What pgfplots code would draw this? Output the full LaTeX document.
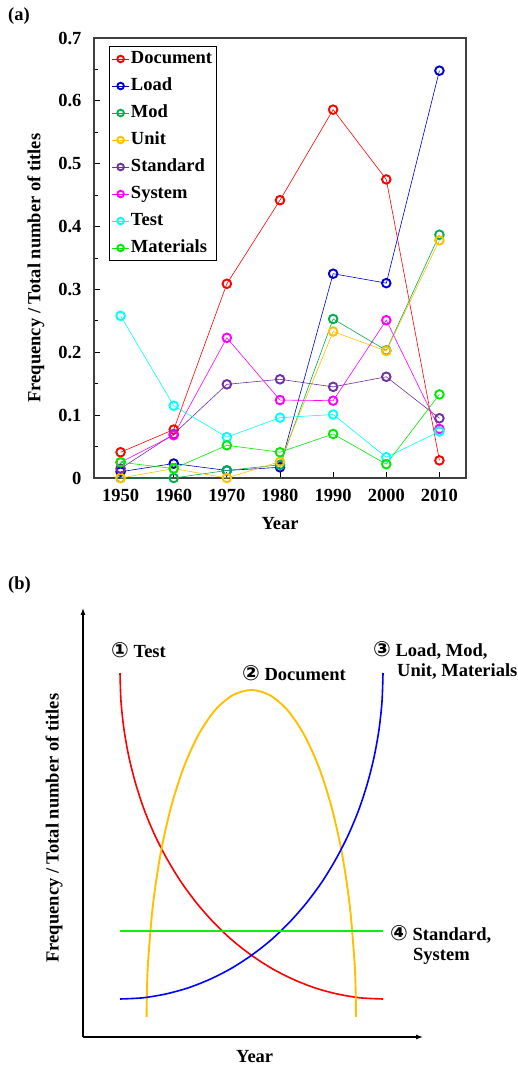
\documentclass[border=0pt]{standalone}
\usepackage{fontspec}
\setmainfont{Liberation Serif}
\newfontfamily\sym{DejaVu Sans}
\usepackage{pgfplots}
\pgfplotsset{compat=1.18}
\usetikzlibrary{arrows.meta}
\definecolor{cDoc}{RGB}{255,0,0}
\definecolor{cLoad}{RGB}{0,0,200}
\definecolor{cMod}{RGB}{0,176,80}
\definecolor{cUnit}{RGB}{255,192,0}
\definecolor{cStd}{RGB}{112,48,160}
\definecolor{cSys}{RGB}{255,0,255}
\definecolor{cTest}{RGB}{0,255,255}
\definecolor{cMat}{RGB}{0,235,0}
\definecolor{bRed}{RGB}{255,0,0}
\definecolor{bYel}{RGB}{255,192,0}
\definecolor{bBlue}{RGB}{0,0,255}
\definecolor{bGreen}{RGB}{20,235,20}
\newcommand{\bigf}{\bfseries\fontsize{18.5}{21}\selectfont}
\newcommand{\cnum}[1]{{\sym\fontsize{21}{21}\selectfont #1}}
\pgfplotsset{every axis/.append style={font=\bigf}}
\pgfplotsset{ser/.style={color=#1, line width=0.6pt, mark=o, mark size=4.3pt,
  mark options={line width=1.9pt, fill=white, solid}}}
\begin{document}
\begin{tikzpicture}[font=\bigf]
\useasboundingbox (0pt,0pt) rectangle (518pt,1066pt);
\node[anchor=west, inner sep=0pt] at (8pt,1049.5pt) {(a)};
\begin{axis}[
  at={(94pt,588pt)}, anchor=south west, scale only axis,
  width=372pt, height=440pt,
  xmin=1945, xmax=2015, ymin=0, ymax=0.7,
  xtick={1950,1960,1970,1980,1990,2000,2010},
  ytick={0,0.1,0.2,0.3,0.4,0.5,0.6,0.7},
  minor y tick num=1,
  tick pos=left, tick align=inside,
  major tick length=6pt, minor tick length=4pt,
  tick style={line width=0.8pt, black},
  axis line style={line width=1.3pt, black!75},
  xticklabel style={/pgf/number format/1000 sep=, yshift=-8pt},
  yticklabel style={/pgf/number format/fixed, /pgf/number format/precision=1, xshift=-9pt},
  /pgf/number format/assume math mode=true,
  xlabel={Year}, ylabel={Frequency / Total number of titles},
  every axis x label/.style={at={(axis description cs:0.5,-0.1045)}, anchor=center},
  every axis y label/.style={at={(axis description cs:-0.156,0.477)}, rotate=90, anchor=center},
  legend style={at={(axis description cs:0.0395,0.982)}, anchor=north west,
    draw=black, line width=1.2pt, inner sep=2.5pt, row sep=7pt,
    nodes={inner sep=1.5pt, text height=13pt, text depth=4pt}},
  legend cell align=left,
  legend image code/.code={\draw[mark repeat=2, mark phase=2, mark size=3.3pt] plot coordinates {(0cm,0cm) (0.3cm,0cm) (0.6cm,0cm)};},
  clip=false,
]
\addplot[ser=cDoc] coordinates {(1950,0.041)(1960,0.077)(1970,0.309)(1980,0.442)(1990,0.586)(2000,0.475)(2010,0.028)};
\addlegendentry{Document}
\addplot[ser=cLoad] coordinates {(1950,0.010)(1960,0.023)(1970,0.012)(1980,0.017)(1990,0.325)(2000,0.310)(2010,0.648)};
\addlegendentry{Load}
\addplot[ser=cMod] coordinates {(1950,0)(1960,0)(1970,0.012)(1980,0.021)(1990,0.253)(2000,0.203)(2010,0.387)};
\addlegendentry{Mod}
\addplot[ser=cUnit] coordinates {(1950,0)(1960,0.015)(1970,0)(1980,0.026)(1990,0.233)(2000,0.202)(2010,0.378)};
\addlegendentry{Unit}
\addplot[ser=cStd] coordinates {(1950,0.015)(1960,0.070)(1970,0.149)(1980,0.157)(1990,0.145)(2000,0.161)(2010,0.095)};
\addlegendentry{Standard}
\addplot[ser=cSys] coordinates {(1950,0.025)(1960,0.068)(1970,0.223)(1980,0.124)(1990,0.123)(2000,0.251)(2010,0.078)};
\addlegendentry{System}
\addplot[ser=cTest] coordinates {(1950,0.258)(1960,0.115)(1970,0.065)(1980,0.096)(1990,0.101)(2000,0.033)(2010,0.074)};
\addlegendentry{Test}
\addplot[ser=cMat] coordinates {(1950,0.025)(1960,0.015)(1970,0.052)(1980,0.041)(1990,0.070)(2000,0.022)(2010,0.133)};
\addlegendentry{Materials}
\end{axis}

\node[anchor=west, inner sep=0pt] at (8pt,481pt) {(b)};
\begin{axis}[
  at={(83pt,29pt)}, anchor=south west, scale only axis,
  width=340pt, height=429pt,
  xmin=83, xmax=423, ymin=29, ymax=458,
  axis lines=left, xtick=\empty, ytick=\empty,
  axis line style={line width=1.1pt, black, -{Latex[length=7pt,width=5pt]}},
  xlabel={Year}, ylabel={Frequency / Total number of titles},
  every axis x label/.style={at={(axis description cs:0.505,-0.0466)}, anchor=center},
  every axis y label/.style={at={(axis description cs:-0.0853,0.487)}, rotate=90, anchor=center},
  clip=false,
]
\addplot[color=bRed, line width=1.6pt, smooth, no markers] coordinates {(120,393)(121,364.6)(124,336.4)(129,308.6)(135.9,281.5)(144.6,255.2)(155.2,230)(167.6,206)(181.5,183.4)(197,162.5)(213.9,143.3)(232.1,125.9)(251.5,110.7)(271.9,97.5)(293.1,86.7)(314.9,78.1)(337.3,72)(360.1,68.2)(383,67)};
\addplot[color=bYel, line width=1.9pt, smooth, no markers] coordinates {(146.6,49)(147,77.5)(148.2,105.8)(152.9,160.8)(160.6,212.5)(171.1,259.2)(184,299.5)(199,332.2)(215.5,356.3)(233.1,371)(251.3,376)(269.5,371)(287.1,356.3)(303.6,332.2)(318.6,299.5)(331.5,259.2)(342,212.5)(349.7,160.8)(354.4,105.8)(355.6,77.5)(356,49)};
\addplot[color=bBlue, line width=1.6pt, smooth, no markers] coordinates {(120,67)(142.9,68.2)(165.7,72)(188.1,78.1)(209.9,86.7)(231.1,97.5)(251.5,110.7)(270.9,125.9)(289.1,143.3)(306,162.5)(321.5,183.4)(335.4,206)(347.8,230)(358.4,255.2)(367.1,281.5)(374,308.6)(379,336.4)(382,364.6)(383,393)};
\addplot[color=bGreen, line width=2pt, no markers] coordinates {(120,134.5)(180,134.5)(251.5,134.5)(320,134.5)(383,134.5)};
\node[anchor=west, inner sep=0pt] at (axis cs:111,416) {\cnum{①} Test};
\node[anchor=west, inner sep=0pt] at (axis cs:242,393) {\cnum{②} Document};
\node[anchor=west, inner sep=0pt] at (axis cs:373,416) {\cnum{③} Load, Mod,};
\node[anchor=west, inner sep=0pt] at (axis cs:397,394) {Unit, Materials};
\node[anchor=west, inner sep=0pt] at (axis cs:390,132) {\cnum{④} Standard,};
\node[anchor=west, inner sep=0pt] at (axis cs:413,110) {System};
\end{axis}
\end{tikzpicture}
\end{document}
